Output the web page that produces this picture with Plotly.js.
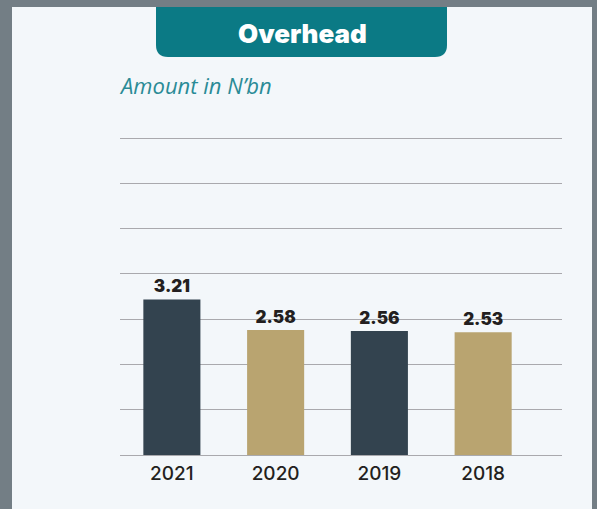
<!DOCTYPE html>
<html>
<head>
<meta charset="utf-8">
<script src="https://cdn.plot.ly/plotly-3.0.1.min.js"></script>
<style>html,body{margin:0;padding:0;background:#737e85;}#chart{width:597px;height:509px;}</style>
</head>
<body>
<div id="chart"></div>
<script>
const years = ["2021", "2020", "2019", "2018"];
const overhead = [3.21, 2.58, 2.56, 2.53];
const valueLabels = ["3.21", "2.58", "2.56", "2.53"];
const barColors = ["#33434f", "#b9a470", "#33434f", "#b9a470"];
const chartTitle = "Overhead";
const subTitle = "Amount in N\u2019bn";

// plot area in pixels
const L = 120, R = 562, T = 134, B = 455;
const W = 597, H = 509;
const gridTop = 138;
const px = x => (x - L) / (R - L);
const py = y => (B - y) / (B - T);

const yMax = 6.54;
const gridVals = [0, 1, 2, 3, 4, 5, 6, 7].map(i => yMax * i / 7);
const yTop = yMax * (B - T) / (B - gridTop);

// title box path with rounded bottom corners
const bx0 = 156, bx1 = 447, by0 = 7, by1 = 57, rad = 12;
const titlePath = [
  `M ${px(bx0)},${py(by0)}`,
  `L ${px(bx1)},${py(by0)}`,
  `L ${px(bx1)},${py(by1 - rad)}`,
  `Q ${px(bx1)},${py(by1)} ${px(bx1 - rad)},${py(by1)}`,
  `L ${px(bx0 + rad)},${py(by1)}`,
  `Q ${px(bx0)},${py(by1)} ${px(bx0)},${py(by1 - rad)}`,
  "Z"
].join(" ");

const data = [{
  type: "bar",
  x: years,
  y: overhead,
  text: valueLabels,
  textposition: "outside",
  texttemplate: "%{text}",
  cliponaxis: false,
  width: 0.55,
  marker: { color: barColors, line: { width: 0 } },
  textfont: { family: "Inter, 'DejaVu Sans', sans-serif", size: 17, color: "#231f20", weight: 900 },
  hoverinfo: "skip"
}];

const layout = {
  width: W, height: H,
  margin: { l: L, r: W - R, t: T, b: H - B, pad: 0 },
  paper_bgcolor: "#737e85",
  plot_bgcolor: "rgba(0,0,0,0)",
  showlegend: false,
  xaxis: {
    type: "category",
    range: [-0.5, 3.76],
    showgrid: false,
    showline: false,
    zeroline: false,
    ticks: "",
    ticklabelstandoff: 5,
    tickfont: { family: "Inter, 'DejaVu Sans', sans-serif", size: 19, color: "#231f20", weight: 500 },
    fixedrange: true
  },
  yaxis: {
    range: [0, yTop],
    tickmode: "array",
    tickvals: gridVals,
    showticklabels: false,
    showgrid: true,
    gridcolor: "#a9a9ad",
    gridwidth: 1,
    zeroline: true,
    zerolinecolor: "#a9a9ad",
    zerolinewidth: 1,
    showline: false,
    ticks: "",
    fixedrange: true
  },
  shapes: [
    { type: "rect", layer: "below", xref: "paper", yref: "paper",
      x0: px(12), x1: px(592), y0: py(7), y1: py(H + 5),
      fillcolor: "#f3f7fa", line: { width: 0 } },
    { type: "path", layer: "below", xref: "paper", yref: "paper",
      path: titlePath, fillcolor: "#0b7a85", line: { width: 0 } }
  ],
  annotations: [
    { text: chartTitle, xref: "paper", yref: "paper", x: px(302), y: py(33),
      xanchor: "center", yanchor: "middle", showarrow: false,
      font: { family: "Inter, 'DejaVu Sans', sans-serif", size: 26, color: "#ffffff", weight: 900 } },
    { text: subTitle, xref: "paper", yref: "paper", x: px(117), y: py(85),
      xanchor: "left", yanchor: "middle", showarrow: false,
      font: { family: "'Open Sans', Lato, sans-serif", size: 22, color: "#2a8b96", style: "italic" } }
  ]
};

Plotly.newPlot("chart", data, layout, { displayModeBar: false, staticPlot: true });
</script>
</body>
</html>
